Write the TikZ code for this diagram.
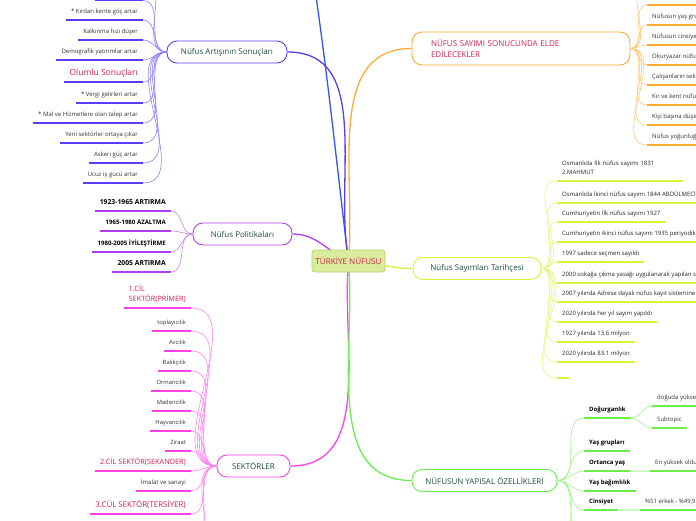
\documentclass[tikz,border=0pt]{standalone}
\usepackage{fontspec}
\setmainfont{Open Sans}
\usetikzlibrary{backgrounds}
\definecolor{rootfill}{HTML}{D9EC9E}
\definecolor{rootline}{HTML}{B4D468}
\definecolor{redtxt}{HTML}{D3204C}
\definecolor{maintxt}{HTML}{1F4E3D}
\definecolor{itemtxt}{HTML}{333333}
\definecolor{topC}{HTML}{2F55F5}
\definecolor{sonucC}{HTML}{5B3CF6}
\definecolor{polC}{HTML}{B13DF2}
\definecolor{sekC}{HTML}{FF3FEA}
\definecolor{sayC}{HTML}{FFAA33}
\definecolor{tarC}{HTML}{D6F53A}
\definecolor{yapC}{HTML}{6BEE4A}

\begin{document}
\begin{tikzpicture}[x=1pt, y=-1pt,
  hub/.style={draw=rootline, fill=rootfill, line width=0.8pt, rounded corners=3pt, text=redtxt,
              font=\fontsize{8.1}{9.5}\selectfont, minimum width=73pt, minimum height=22pt, inner sep=0pt},
  topic/.style={draw=#1, fill=white, line width=0.9pt, rounded corners=10pt, text=maintxt,
              font=\fontsize{8}{9.5}\selectfont, minimum height=22pt, inner sep=0pt},
  leaf/.style={font=\fontsize{6}{9}\selectfont, text=itemtxt, align=left,
              inner xsep=5pt, inner ysep=4.5pt, text depth=1.5pt},
  soft/.style={},
  sm/.style={font=\fontsize{5.8}{8.5}\selectfont},
  hot/.style={text=redtxt, font=\fontsize{7.3}{10}\selectfont},
  hotbig/.style={text=redtxt, font=\fontsize{8.5}{10}\selectfont},
  hotmid/.style={text=redtxt, font=\fontsize{7.9}{10}\selectfont},
  caps/.style={text=black, font=\fontsize{6.8}{8}\selectfont\bfseries},
  capsm/.style={text=black, font=\fontsize{6.1}{7.5}\selectfont\bfseries},
  strong/.style={text=black, font=\fontsize{6}{7.5}\selectfont\bfseries},
  dark/.style={text=black!85},
  wide/.style={text=black!85, text width=116pt, text depth=10.5pt},
  stub/.style={minimum width=12pt},
  blank/.style={minimum width=48pt},
  uline/.style={line width=1.6pt, draw=#1},
  twig/.style={line width=0.6pt, draw=#1!65},
  trunk/.style={line width=1.3pt, draw=#1},
  bridge/.style={line width=1.6pt, draw=#1!35}]
\useasboundingbox (0,0) rectangle (696,520);
\begin{scope}[on background layer]\fill[white] (0,0) rectangle (696,520);\end{scope}
\clip (0,0) rectangle (696,520);

% centre and main topics
\node[hub] (root) at (348.5,261) {TÜRKİYE NÜFUSU};
\node[topic=sonucC, minimum width=120pt] (sonuc) at (227,52) {Nüfus Artışının Sonuçları};
\node[topic=polC, minimum width=99pt] (politika) at (242.5,234) {Nüfus Politikaları};
\node[topic=sekC, minimum width=73pt] (sektor) at (253.5,466) {SEKTÖRLER};
\node[topic=sayC, text=redtxt, align=left, text width=180pt, inner xsep=19pt, minimum height=33pt,
      font=\fontsize{8}{11}\selectfont] (sayim) at (521,48.5) {NÜFUS SAYIMI SONUCUNDA ELDE\\EDİLECEKLER};
\node[topic=tarC, minimum width=128pt] (tarihce) at (477,268.5) {Nüfus Sayımları Tarihçesi};
\node[topic=yapC, minimum width=145pt] (yapi) at (484.5,480.5) {NÜFUSUN YAPISAL ÖZELLİKLERİ};
\coordinate (topend) at (316,-4);

\begin{scope}[on background layer]
\draw[trunk=topC] (root.center) to[out=97,in=-82] (topend);
\draw[trunk=sonucC] (root.center) to[out=100,in=0] (sonuc.east);
\draw[trunk=sayC] (root.center) to[out=85,in=180] (sayim.west);
\draw[trunk=polC] (root.center) to[out=155,in=0] (politika.east);
\draw[trunk=tarC] (root.center) to[out=0,in=180] (tarihce.west);
\draw[trunk=sekC] (root.center) to[out=-95,in=0] (sektor.east);
\draw[trunk=yapC] (root.center) to[out=-85,in=180] (yapi.west);
\end{scope}

% Nüfus Artışının Sonuçları
\foreach \n/\y/\s/\t in {s0/0.5/blank/{}, s1/20/soft/{* Kırdan kente göç artar}, s2/40/soft/{Kalkınma hızı düşer},
    s3/60/soft/{Demografik yatırımlar artar}, s4/82/hotbig/{Olumlu Sonuçları}, s5/103/soft/{* Vergi gelirleri artar},
    s6/123/soft/{* Mal ve Hizmetlere olan talep artar}, s7/143/soft/{Yeni sektörler ortaya çıkar},
    s8/163/soft/{Askeri güç artar}, s9/183/soft/{Ucuz iş gücü artar}} {
  \node[leaf, \s, anchor=south east] (\n) at (143,\y) {\t};
  \draw[uline=sonucC] (\n.south west) -- (\n.south east);
  \draw[twig=sonucC] (\n.south east) to[out=0,in=180] (sonuc.west);
}
\coordinate (sup1) at (143,-22);
\draw[twig=sonucC] (sup1) to[out=0,in=180] (sonuc.west);

% Nüfus Politikaları
\foreach \n/\y/\s/\t in {p1/211/caps/{1923-1965 ARTIRMA}, p2/231/capsm/{1965-1980 AZALTMA},
    p3/252/capsm/{1980-2005 İYİLEŞTİRME}, p4/272/caps/{2005 ARTIRMA}} {
  \node[leaf, \s, anchor=south east] (\n) at (171,\y) {\t};
  \draw[uline=polC] (\n.south west) -- (\n.south east);
  \draw[twig=polC] (\n.south east) to[out=0,in=180] (politika.west);
}

% SEKTÖRLER
\foreach \n/\y/\s/\t in {k1/308/hot/{1.CİL\\SEKTÖR(PRİMER)}, k2/331/sm/{toplayıcılık}, k3/351/sm/{Avcılık},
    k4/371/sm/{Balıkçılık}, k5/391/sm/{Ormancılık}, k6/411/sm/{Madencilik}, k7/431/sm/{Hayvancılık},
    k8/451/sm/{Ziraat}, k9/471/hot/{2.CİL SEKTÖR(SEKANDER)}, k10/491/soft/{İmalat ve sanayi},
    k11/514/hotmid/{3.CÜL SEKTÖR(TERSİYER)}} {
  \node[leaf, \s, anchor=south east] (\n) at (191,\y) {\t};
  \draw[uline=sekC] (\n.south west) -- (\n.south east);
  \draw[twig=sekC] (\n.south east) to[out=0,in=180] (sektor.west);
}
\coordinate (kdn1) at (191,536);
\coordinate (kdn2) at (191,556);
\draw[twig=sekC] (kdn1) to[out=0,in=180] (sektor.west);
\draw[twig=sekC] (kdn2) to[out=0,in=180] (sektor.west);

% NÜFUS SAYIMI SONUCUNDA ELDE EDİLECEKLER
\foreach \n/\y/\t in {c0/5/{Nüfusun sayısı}, c1/25/{Nüfusun yaş grupları}, c2/45/{Nüfusun cinsiyet dağılımı},
    c3/65/{Okuryazar nüfus oranı}, c4/85/{Çalışanların sektörel dağılımı}, c5/105/{Kır ve kent nüfusu},
    c6/125/{Kişi başına düşen gelir}, c7/145/{Nüfus yoğunluğu}} {
  \node[leaf, anchor=south west] (\n) at (647,\y) {\t};
  \draw[uline=sayC] (\n.south west) -- (\n.south east);
  \draw[twig=sayC] (sayim.east) to[out=0,in=180] (\n.south west);
}
\coordinate (cup1) at (647,-16);
\draw[twig=sayC] (sayim.east) to[out=0,in=180] (cup1);

% Nüfus Sayımları Tarihçesi
\foreach \n/\y/\s/\t in {t1/181/wide/{Osmanlıda İlk nüfus sayımı 1831\\2.MAHMUT},
    t2/203/dark/{Osmanlıda İkinci nüfus sayımı 1844 ABDÜLMECİT}, t3/222/dark/{Cumhuriyetin İlk nüfus sayımı 1927},
    t4/242/dark/{Cumhuriyetin ikinci nüfus sayımı 1935 periyodik}, t5/262/dark/{1997 sadece seçmen sayıldı},
    t6/283/dark/{2000 sokağa çıkma yasağı uygulanarak yapılan sayım},
    t7/302/dark/{2007 yılında Adrese dayalı nüfus kayıt sistemine geçildi},
    t8/322/dark/{2020 yılında her yıl sayım yapıldı}, t9/342/dark/{1927 yılında 13.6 milyon},
    t10/362/dark/{2020 yılında 83.1 milyon}, t11/378/stub/{}} {
  \node[leaf, \s, anchor=south west] (\n) at (557,\y) {\t};
  \draw[uline=tarC] (\n.south west) -- (\n.south east);
  \draw[twig=tarC] (tarihce.east) to[out=0,in=180] (\n.south west);
}

% NÜFUSUN YAPISAL ÖZELLİKLERİ
\foreach \n/\y/\t in {y1/418/{Doğurganlık}, y2/451/{Yaş grupları}, y3/471/{Ortanca yaş},
    y4/491/{Yaş bağımlılık}, y5/510/{Cinsiyet}} {
  \node[leaf, strong, anchor=south west] (\n) at (584,\y) {\t};
  \draw[uline=yapC] (\n.south west) -- (\n.south east);
  \draw[twig=yapC] (yapi.east) to[out=0,in=180] (\n.south west);
}
\coordinate (ydn1) at (584,534);
\coordinate (ydn2) at (584,554);
\draw[twig=yapC] (yapi.east) to[out=0,in=180] (ydn1);
\draw[twig=yapC] (yapi.east) to[out=0,in=180] (ydn2);
\node[leaf, anchor=south west] (y1a) at (652,406) {doğuda yüksek};
\node[leaf, anchor=south west] (y1b) at (652,428) {Subtopic};
\node[leaf, anchor=south west] (y3a) at (650,471) {En yüksek olduğu il};
\node[leaf, anchor=south west] (y5a) at (640,510) {\%51 erkek - \%49,9 kadın};
\foreach \n in {y1a,y1b,y3a,y5a} \draw[uline=yapC] (\n.south west) -- (\n.south east);
\draw[twig=yapC] (y1.south east) to[out=0,in=180] (y1a.south west);
\draw[twig=yapC] (y1.south east) to[out=0,in=180] (y1b.south west);
\draw[bridge=yapC] (y3.south east) -- (y3a.south west);
\draw[bridge=yapC] (y5.south east) -- (y5a.south west);
\end{tikzpicture}
\end{document}
